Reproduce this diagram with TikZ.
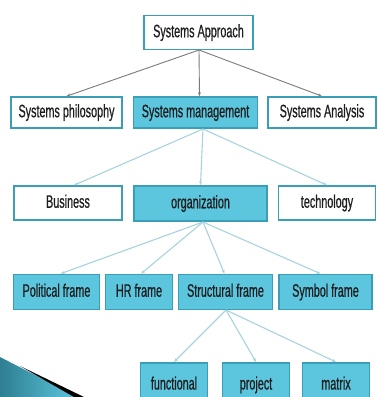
\documentclass[tikz,border=0pt]{standalone}
\usepackage{fontspec}
\setmainfont[FakeStretch=0.6,FakeBold=0.6]{Liberation Sans}
\usetikzlibrary{arrows.meta}
\definecolor{tealfill}{HTML}{5CC6DE}
\definecolor{tealline}{HTML}{3A9FB6}
\definecolor{lightlink}{HTML}{A6D3DC}
\definecolor{graylink}{HTML}{7A7A7A}
\definecolor{txt}{HTML}{1E1E1E}
\tikzset{
  box/.style={draw=tealline, line width=1.6pt, minimum height=#1, inner sep=0pt, text=txt,
    text height=13pt, text depth=3.5pt, font=\fontsize{18}{20}\selectfont},
  wbox/.style={box=33pt, fill=white},
  fbox/.style={box=33pt, fill=tealfill},
  glink/.style={draw=graylink, line width=0.9pt, -{Stealth[length=4pt,width=3pt]}},
  llink/.style={draw=lightlink, line width=1.1pt, -{Stealth[length=4pt,width=3pt]}},
}
\begin{document}
\begin{tikzpicture}[x=1pt,y=-1pt]
\useasboundingbox (0,0) rectangle (378,397);
% swoosh
\shade[left color=tealline!80!black, right color=tealfill] (0,357) -- (78,397) -- (0,397) -- cycle;
\fill[black] (20,366) -- (84,397) -- (74,397) -- cycle;
% level 0
\node[wbox, minimum width=109pt, minimum height=34pt] (sa) at (198.5,32.5) {Systems Approach};
% level 1
\node[wbox, minimum width=111pt, minimum height=31pt] (sp) at (66.5,112.5) {Systems philosophy};
\node[fbox, minimum width=124pt, minimum height=31pt] (sm) at (195.5,112.5) {Systems management};
\node[wbox, minimum width=108pt, minimum height=31pt] (san) at (322,112.5) {Systems Analysis};
% level 2
\node[wbox, minimum width=108pt, minimum height=34pt] (bu) at (68,203) {Business};
\node[fbox, minimum width=133pt, minimum height=35pt] (or) at (200.5,203.5) {organization};
\node[wbox, minimum width=97pt, minimum height=34pt] (te) at (327,203) {technology};
% level 3
\node[fbox, minimum width=86pt, minimum height=35pt] (po) at (56.5,292) {Political frame};
\node[fbox, minimum width=67pt, minimum height=35pt] (hr) at (139,292) {HR frame};
\node[fbox, minimum width=94pt, minimum height=35pt] (st) at (225.5,292) {Structural frame};
\node[fbox, minimum width=93pt, minimum height=35pt] (sy) at (325.5,292) {Symbol frame};
% level 4
\node[fbox, minimum width=67pt, minimum height=44pt, anchor=north] (fu) at (174,362) {functional};
\node[fbox, minimum width=67pt, minimum height=44pt, anchor=north] (pr) at (256,362) {project};
\node[fbox, minimum width=67pt, minimum height=44pt, anchor=north] (ma) at (336,362) {matrix};
% links
\coordinate (sab) at (199,50);
\draw[glink] (sab) -- (sp.north);
\draw[glink] (sab) -- ([xshift=4pt]sm.north);
\draw[glink] (sab) -- (san.north);
\coordinate (smb) at (203,129);
\draw[llink] (smb) -- ([xshift=6pt]bu.north);
\draw[llink] (smb) -- (or.north);
\draw[llink] (smb) -- (te.north);
\coordinate (orb) at (203,222);
\draw[llink] (orb) -- ([xshift=4pt]po.north);
\draw[llink] (orb) -- ([xshift=2pt]hr.north);
\draw[llink] (orb) -- ([xshift=-1pt]st.north);
\draw[llink] (orb) -- ([xshift=-5pt]sy.north);
\coordinate (stb) at (226,310);
\draw[llink] (stb) -- (fu.north);
\draw[llink] (stb) -- (pr.north);
\draw[llink] (stb) -- (ma.north);
\end{tikzpicture}
\end{document}
